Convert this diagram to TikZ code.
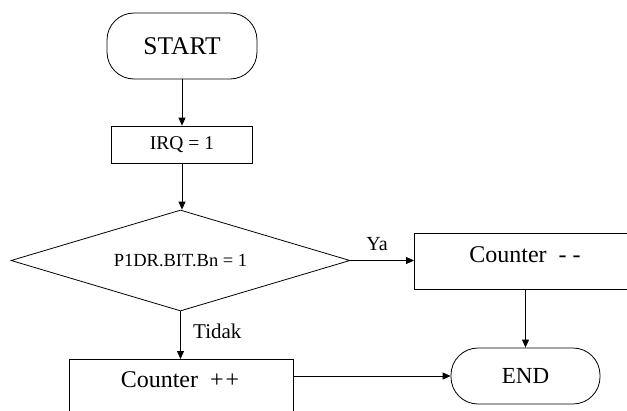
\documentclass[tikz,border=0pt]{standalone}
\usepackage{fontspec}
\setmainfont{Liberation Serif}
\usetikzlibrary{shapes.geometric,arrows.meta}
\tikzset{
  flow/.style={draw=black, line width=0.8pt},
  term/.style={flow, rounded corners=27pt, inner sep=0pt},
  procbox/.style={flow, inner sep=0pt, anchor=north west},
  decide/.style={flow, shape=diamond, inner sep=0pt, aspect=3.36},
  conn/.style={line width=0.8pt, -{Triangle[length=8pt,width=7pt]}},
  lbl/.style={inner sep=0pt}
}
\begin{document}
\begin{tikzpicture}[x=1pt,y=-1pt]
\useasboundingbox (0,0) rectangle (627,410);
\clip (0,0) rectangle (627,410);
% terminators
\node[term, minimum width=150pt, minimum height=66pt, font=\fontsize{25.5}{29}\selectfont] (start) at (182,46) {START};
\node[term, minimum width=149pt, minimum height=56pt, font=\fontsize{23}{27}\selectfont] (end) at (525.5,376) {END};
% process
\node[flow, minimum width=141pt, minimum height=37pt, inner sep=0pt, font=\fontsize{19.5}{23}\selectfont] (irq) at (182,144.5) {IRQ = 1};
% decision
\node[decide, minimum width=339pt, minimum height=101pt, font=\fontsize{18.5}{22}\selectfont] (dec) at (180.5,260.5) {P1DR.BIT.Bn = 1};
% boxes
\node[procbox, minimum width=226pt, minimum height=56pt] (cm) at (414,233) {};
\node[lbl, font=\fontsize{24}{28}\selectfont] (cmt) at (525,255) {Counter\ \ - -};
\node[procbox, minimum width=224pt, minimum height=56pt] (cp) at (69,359) {};
\node[lbl, font=\fontsize{24}{28}\selectfont] (cpt) at (180,380) {Counter\ \ +\kern2pt+};
% labels
\node[lbl, font=\fontsize{20}{24}\selectfont] (ya) at (377,244) {Ya};
\node[lbl, font=\fontsize{21}{25}\selectfont, anchor=west] (tidak) at (193,331) {Tidak};
% connectors
\draw[conn] (start.south) -- (irq.north);
\draw[conn] (irq.south) -- (irq.south |- dec.north);
\draw[conn] (dec.east) -- (dec.east -| cm.west);
\draw[conn] (dec.south) -- (dec.south |- cp.north);
\draw[conn] (cm.south -| end.north) -- (end.north);
\draw[conn] (end.west -| cp.east) -- (end.west);
\end{tikzpicture}
\end{document}
